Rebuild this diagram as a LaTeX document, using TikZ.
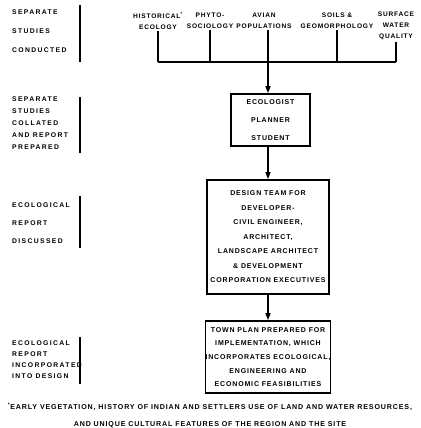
\documentclass[tikz,border=0pt]{standalone}
\usepackage{fontspec}
\setmainfont{Liberation Sans}
\newfontfamily\labfont[LetterSpace=12]{Liberation Sans Bold}
\newfontfamily\sidefont[LetterSpace=20]{Liberation Sans Bold}
\usetikzlibrary{arrows.meta}
\begin{document}
\begin{tikzpicture}[x=1pt,y=-1pt,
  toplab/.style={align=center,inner sep=1.5pt,font=\labfont\fontsize{6.6}{11}\selectfont},
  sidelab/.style={anchor=north west,align=left,inner sep=0pt},
  sidebar/.style={line width=1.1pt},
  boxnode/.style={draw,line width=1.7pt,align=center,inner sep=0pt,font=\labfont\fontsize{7}{14.5}\selectfont},
  link/.style={line width=1.5pt},
  arr/.style={line width=1.5pt,-{Triangle[length=7pt,width=5pt]}}]
\useasboundingbox (0,0) rectangle (420,428);
\fill[white] (0,0) rectangle (420,428);
% left stage labels
\node[sidelab,font=\sidefont\fontsize{6.8}{19}\selectfont] (s1) at (12,10) {SEPARATE\\STUDIES\\CONDUCTED};
\node[sidelab,font=\sidefont\fontsize{6.8}{12}\selectfont] (s2) at (12,97) {SEPARATE\\STUDIES\\COLLATED\\AND REPORT\\PREPARED};
\node[sidelab,font=\sidefont\fontsize{6.8}{18}\selectfont] (s3) at (12,203) {ECOLOGICAL\\REPORT\\DISCUSSED};
\node[sidelab,font=\sidefont\fontsize{6.8}{11}\selectfont] (s4) at (12,341) {ECOLOGICAL\\REPORT\\INCORPORATED\\INTO DESIGN};
\draw[sidebar] (80,5) -- (80,62);
\draw[sidebar] (80,97) -- (80,153);
\draw[sidebar] (80,196) -- (80,248);
\draw[sidebar] (80,337) -- (80,384);
% top study labels
\node[toplab] (hist) at (158,20.5) {HISTORICAL\textsuperscript{*}\\ECOLOGY};
\node[toplab] (phyto) at (210,20.5) {PHYTO-\\SOCIOLOGY};
\node[toplab] (avian) at (264,20.5) {AVIAN\\POPULATIONS};
\node[toplab] (soils) at (337,20.5) {SOILS \&\\GEOMORPHOLOGY};
\node[toplab] (surf) at (396,26) {SURFACE\\WATER\\QUALITY};
\coordinate (bus) at (0,62);
% boxes
\node[boxnode,minimum width=79pt,minimum height=52pt,font=\labfont\fontsize{7}{18}\selectfont] (eco) at (270.5,120) {ECOLOGIST\\PLANNER\\STUDENT};
\node[boxnode,minimum width=122pt,minimum height=114pt] (team) at (268,237) {DESIGN TEAM FOR\\DEVELOPER-\\CIVIL ENGINEER,\\ARCHITECT,\\LANDSCAPE ARCHITECT\\\& DEVELOPMENT\\CORPORATION EXECUTIVES};
\node[boxnode,minimum width=122pt,minimum height=72pt,font=\labfont\fontsize{7}{13.6}\selectfont] (town) at (268,357) {TOWN PLAN PREPARED FOR\\IMPLEMENTATION, WHICH\\INCORPORATES ECOLOGICAL,\\ENGINEERING AND\\ECONOMIC FEASIBILITIES};
% connectors
\draw[link] (hist.south) -- (hist.south |- bus);
\draw[link] (phyto.south) -- (phyto.south |- bus);
\draw[link] (soils.south) -- (soils.south |- bus);
\draw[link] (surf.south) -- (surf.south |- bus);
\draw[link] (hist.south |- bus) -- (surf.south |- bus);
\draw[link] (avian.south -| team.north) -- (team.north |- bus);
\draw[arr] (team.north |- bus) -- (team.north |- eco.north);
\draw[arr] (team.north |- eco.south) -- (team.north);
\draw[arr] (team.south) -- (town.north);
% footnote
\node[align=center,inner sep=0pt,font=\labfont\fontsize{7.1}{17}\selectfont] (note) at (210,415.5) {\textsuperscript{*}EARLY VEGETATION, HISTORY OF INDIAN AND SETTLERS USE OF LAND AND WATER RESOURCES,\\AND UNIQUE CULTURAL FEATURES OF THE REGION AND THE SITE};
\end{tikzpicture}
\end{document}
